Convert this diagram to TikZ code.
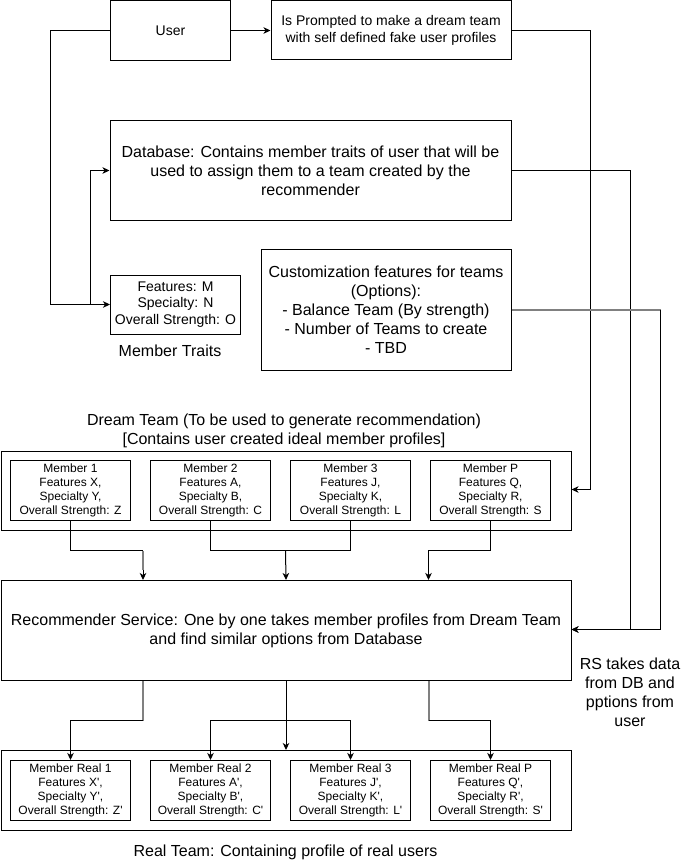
\documentclass[tikz,border=0pt]{standalone}
\usepackage{fontspec}
\setmainfont{Liberation Sans}
\usepackage{tikz}
\usetikzlibrary{arrows.meta}

\newcommand{\pr}{\textquotesingle}

\tikzset{
	box/.style={draw, rectangle, inner sep=0pt, align=center, line width=1pt},
	bigtext/.style={font=\fontsize{16}{19}\selectfont},
	midtext/.style={font=\fontsize{14}{16.5}\selectfont},
	smalltext/.style={font=\fontsize{12}{14}\selectfont},
	member/.style={box, smalltext, minimum width=120pt, minimum height=60pt},
	link/.style={line width=1pt, ->, >={Stealth[length=7pt, width=6.5pt, inset=2pt]}},
	glink/.style={line width=2pt, draw=black!50}
}

\begin{document}
\begin{tikzpicture}[x=1pt, y=-1pt]
\useasboundingbox (0,0) rectangle (691,861);

\node[box, midtext, minimum width=120pt, minimum height=60pt]		(User) at (170.5,30.5)	{User};
\node[box, midtext, minimum width=240pt, minimum height=59pt]		(Prompt) at (391,30.5)	{Is Prompted to make a dream team\\with self defined fake user profiles};
\node[box, bigtext, minimum width=401pt, minimum height=100pt]		(DB) at (310.5,170.5)	{Database: Contains member traits of user that will be\\used to assign them to a team created by the\\recommender};
\node[box, midtext, minimum width=130pt, minimum height=59pt]		(Traits) at (175.5,304.5)	{Features: M\\Specialty: N\\Overall Strength: O};
\node[bigtext]			(TraitsLbl) at (170,351)	{Member Traits};
\node[box, bigtext, minimum width=250pt, minimum height=121pt]		(Custom) at (386,309.5)	{Customization features for teams\\(Options):\\- Balance Team (By strength)\\- Number of Teams to create\\- TBD};

\node[bigtext, align=center]	(DreamLbl) at (284,431)	{Dream Team (To be used to generate recommendation)\\{[}Contains user created ideal member profiles{]}};
\node[box, minimum width=570pt, minimum height=79pt]		(Dream) at (286,490.5)	{};
\node[member]		(M1) at (70.5,490.5)		{Member 1\\Features X,\\Specialty Y,\\Overall Strength: Z};
\node[member]		(M2) at (210.5,490.5)		{Member 2\\Features A,\\Specialty B,\\Overall Strength: C};
\node[member]		(M3) at (350.5,490.5)		{Member 3\\Features J,\\Specialty K,\\Overall Strength: L};
\node[member]		(MP) at (490.5,490.5)		{Member P\\Features Q,\\Specialty R,\\Overall Strength: S};

\node[box, bigtext, minimum width=570pt, minimum height=100pt]		(Rec) at (286,630.5)	{Recommender Service: One by one takes member profiles from Dream Team\\and find similar options from Database};
\node[bigtext, align=center]	(RSLbl) at (630,692)	{RS takes data\\from DB and\\pptions from\\user};

\node[box, minimum width=570pt, minimum height=80pt]		(Real) at (286,790.5)	{};
\node[member]		(R1) at (70.5,790.5)		{Member Real 1\\Features X\pr,\\Specialty Y\pr,\\Overall Strength: Z\pr};
\node[member]		(R2) at (210.5,790.5)		{Member Real 2\\Features A\pr,\\Specialty B\pr,\\Overall Strength: C\pr};
\node[member]		(R3) at (350.5,790.5)		{Member Real 3\\Features J\pr,\\Specialty K\pr,\\Overall Strength: L\pr};
\node[member]		(RP) at (490.5,790.5)		{Member Real P\\Features Q\pr,\\Specialty R\pr,\\Overall Strength: S\pr};
\node[bigtext]			(RealLbl) at (285.5,852)	{Real Team: Containing profile of real users};

\coordinate (Split) at (90.5,304);
\coordinate (Mid) at (285.5,550.5);
\coordinate (Fork) at (285.5,720.5);
\coordinate (Left) at (143,550.5);
\coordinate (LeftTip) at (143,570);
\coordinate (Right) at (428.5,550.5);
\coordinate (LeftLow) at (143,720.5);
\coordinate (RightLow) at (428.5,720.5);

\draw[link] (User.west) -- (50.5,30.5) |- (Traits.west);
\draw[link] (Split) |- (DB.west);
\draw[link] (User) -- (Prompt);
\draw[link] (Prompt.east) -| (590.5,489.5) -- (Dream.east |- 0,489.5);
\draw[link] (DB.east) -| (630.5,629.5) -- (Rec.east |- 0,629.5);
\draw[glink] (Custom.east |- 0,310) -- (660.5,310);
\draw[link] (660.5,310) |- (Rec.east |- 0,629.5);

\draw[line width=1pt] (M1.south) |- (Left);
\draw[glink] (Left) -- (LeftTip);
\draw[link] (LeftTip) -- (Rec.north -| Left);
\draw[line width=1pt] (M2.south) |- (Mid) -| (M3.south);
\draw[link] (Mid) -- (Rec.north);
\draw[link] (MP.south) |- (Right) -- (Rec.north -| Right);

\draw[glink] (Rec.south -| LeftLow) -- (LeftLow);
\draw[link] (LeftLow) -| (R1.north);
\draw[link] (Rec.south) -- (Real.north);
\draw[link] (Fork) -| (R2.north);
\draw[link] (Fork) -| (R3.north);
\draw[glink] (Rec.south -| RightLow) -- (RightLow);
\draw[link] (RightLow) -| (RP.north);
\end{tikzpicture}
\end{document}
